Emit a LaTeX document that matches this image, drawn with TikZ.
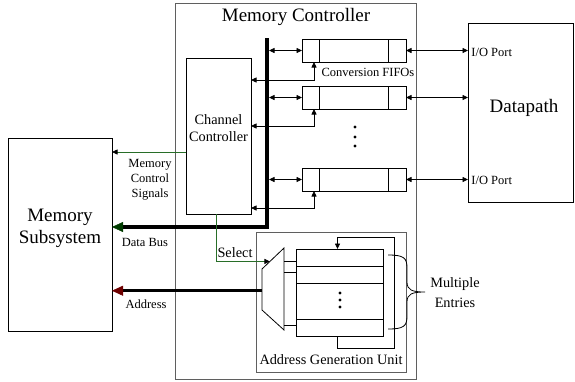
\documentclass[tikz,border=0pt]{standalone}
\usepackage{fontspec}
\setmainfont{Liberation Serif}
\usetikzlibrary{arrows.meta,calc}
\definecolor{sigwire}{RGB}{40,110,40}
\definecolor{busgreen}{RGB}{0,60,0}
\definecolor{addrred}{RGB}{110,0,0}
\definecolor{framegray}{RGB}{95,95,95}
\begin{document}
\begin{tikzpicture}[x=1pt,y=-1pt,line width=0.8pt,
  >={Triangle[length=5.5pt,width=5pt]},
  box/.style={draw, rectangle, inner sep=0pt, outer sep=0pt, anchor=north west},
  frame/.style={box, draw=framegray},
  lbl/.style={inner sep=0pt, align=center, font=\fontsize{12.5}{15}\selectfont},
  big/.style={inner sep=0pt, align=center, font=\fontsize{19}{22}\selectfont},
  mid/.style={inner sep=0pt, align=center, font=\fontsize{14.3}{17}\selectfont},
  bus/.style={line width=3.6pt, line join=miter},
  sig/.style={draw=sigwire, line width=0.8pt},
  sigtip/.style={-{Triangle[length=5.5pt,width=5pt,color=black]}},
  dotmark/.style={circle, fill, inner sep=0pt, minimum size=3.4pt}
]
\useasboundingbox (0,0) rectangle (575,381);

% main blocks
\node[frame, minimum width=241pt, minimum height=376pt] (mc) at (175,3) {};
\node[box, minimum width=104pt, minimum height=193pt] (ms) at (8,138) {};
\node[box, minimum width=105pt, minimum height=179pt] (dp) at (468,23) {};
\node[box, minimum width=65pt, minimum height=156pt] (cc) at (186,58) {};
\node[frame, minimum width=150pt, minimum height=140pt] (agu) at (256,232) {};
\node[box, minimum width=87pt, minimum height=87pt] (reg) at (296,249) {};

% conversion FIFOs with their end cells
\foreach \n/\y in {1/39, 2/86, 3/168} {
  \node[box, minimum width=104pt, minimum height=23pt] (fifo\n) at (302,\y) {};
  \draw ($(fifo\n.north west)+(17,0)$) -- ($(fifo\n.south west)+(17,0)$);
  \draw ($(fifo\n.north east)+(-18,0)$) -- ($(fifo\n.south east)+(-18,0)$);
}

% register entries
\foreach \d in {17,34,70}
  \draw ($(reg.north west)+(0,\d)$) -- ($(reg.north east)+(0,\d)$);

% multiplexer
\coordinate (mtl) at (262,269);
\coordinate (mtr) at (284,248);
\coordinate (mbr) at (284,330);
\coordinate (mbl) at (262,310);
\draw (mtl) -- (mtr) -- (mbr) -- (mbl) -- cycle;
\foreach \y in {261,272,325}
  \draw (mtr |- 0,\y) -- (reg.west |- 0,\y);

% data bus
\coordinate (bustop) at (267,38);
\coordinate (buscorner) at (267,227);
\draw[bus, -{Triangle[length=11pt,width=10pt,color=busgreen,line width=0.5pt]}]
  (bustop) -- (buscorner) -- (ms.east |- buscorner);

% bus <-> FIFOs, FIFOs <-> datapath, FIFOs <-> channel controller
\foreach \n/\r in {1/80, 2/126, 3/208} {
  \draw[<->] ($(bustop |- fifo\n.west)+(2,0)$) -- (fifo\n.west);
  \draw[<->] (fifo\n.east) -- (dp.west |- fifo\n.east);
  \draw[<->] (cc.east |- 0,\r) -| ($(fifo\n.south west)+(12,0)$);
}

% control signals and select
\draw[sig, sigtip] (cc.west |- 0,152) -- (ms.east |- 0,152);
\coordinate (selin) at ($(mtl)!0.36!(mtr)$);
\draw[sig, sigtip] (cc.south -| 216,0) |- (selin);

% address
\coordinate (muxout) at ($(mtl)!0.53!(mbl)$);
\draw[line width=3pt, -{Triangle[length=11pt,width=10pt,color=addrred,line width=0.5pt]}]
  (muxout) -- (ms.east |- muxout);

% entry pointer loop
\coordinate (loopcorner) at (394,237);
\draw[->] ($(reg.south)+(-2,0)$) -- ++(0,12) -| (loopcorner) -| ($(reg.north)+(-2,0)$);

% brace over the entries
\draw (388,255) .. controls (404,255) and (407,258) .. (407,268) -- (407,282)
  .. controls (407,290) and (412,292) .. (425,292)
  .. controls (412,292) and (407,294) .. (407,302) -- (407,316)
  .. controls (407,326) and (404,329) .. (388,329);

% ellipsis dots
\foreach \y [count=\i] in {127,137,146}
  \node[dotmark] (fdot\i) at (355,\y) {};
\foreach \y [count=\i] in {293,300,307}
  \node[dotmark] (rdot\i) at (340,\y) {};

% labels
\node[big] (mctitle) at (296,17) {Memory Controller};
\node[big] (mstext) at (60,228) {Memory\\Subsystem};
\node[big] (dptext) at (524,108) {Datapath};
\node[mid] (cctext) at (218.5,128) {Channel\\Controller};
\node[lbl] (mcsig) at (150,180) {Memory\\Control\\Signals};
\node[lbl] (dblabel) at (145,242) {Data Bus};
\node[lbl] (addrlabel) at (146,304) {Address};
\node[mid] (sellabel) at (235,253) {Select};
\node[lbl] (fifolabel) at (368,72) {Conversion FIFOs};
\node[lbl, anchor=west] (io1) at (471,52) {I/O Port};
\node[lbl, anchor=west] (io3) at (471,180) {I/O Port};
\node[mid] (agulabel) at (331,360) {Address Generation Unit};
\node[mid, font=\fontsize{14.3}{20}\selectfont] (multi) at (455,293) {Multiple\\Entries};
\end{tikzpicture}
\end{document}
